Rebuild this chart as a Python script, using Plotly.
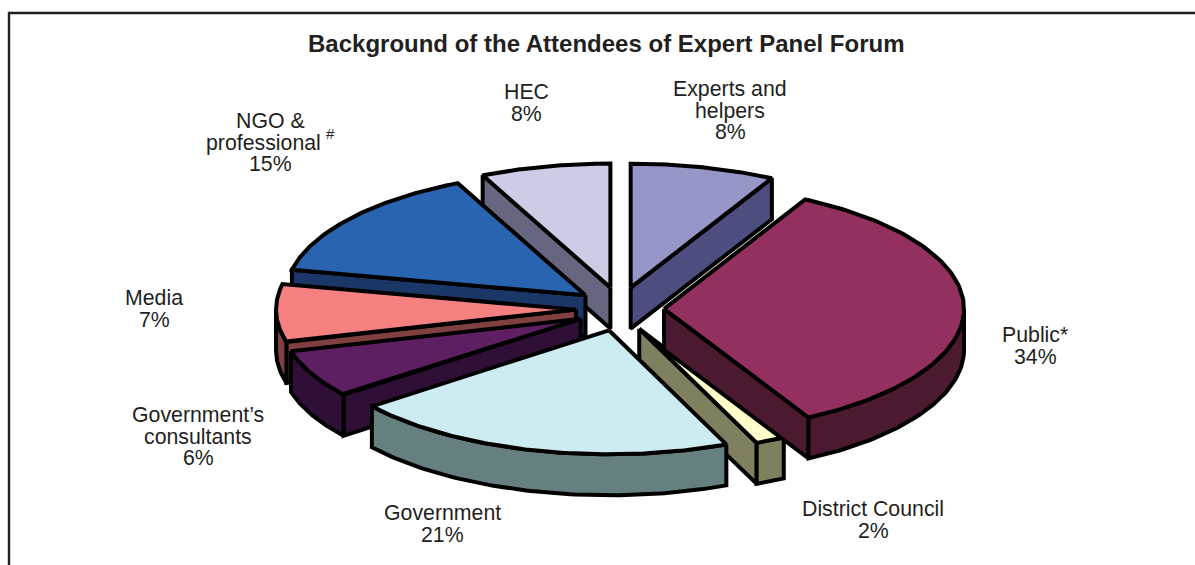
import numpy as np
import plotly.graph_objects as go

categories = ["Experts and helpers", "Public*", "District Council", "Government",
              "Government's consultants", "Media", "NGO & professional", "HEC"]
percent_labels = [8, 34, 2, 21, 6, 7, 15, 8]
slice_shares = [7.8, 34.2, 1.6, 20.9, 6.3, 7.5, 14.7, 7.0]
top_colors = ["#9696C9", "#93305F", "#FFFFCC", "#CDECF1", "#5E1F62", "#F58080", "#2864B0", "#CCCCE6"]
side_colors = ["#4D4D80", "#4B1A30", "#808060", "#668080", "#300F36", "#804040", "#1B3768", "#666680"]
label_lines = [
    ["Experts and", "helpers"], ["Public*"], ["District Council"], ["Government"],
    ["Government\u2019s", "consultants"], ["Media"], ["NGO &", "professional"], ["HEC"],
]
label_centers = [(730, 89), (1035, 335), (873, 509), (442, 513),
                 (198, 415), (154, 298), (270, 121), (526, 92)]
draw_order = [7, 6, 5, 4, 0, 2, 1, 3]

CX, CY, RX, RY, DEPTH, EX, EY = 620, 309, 300, 124, 41, 44, 22
LW = 4
FONT = "Liberation Sans, Arial, sans-serif"

fracs = np.array(slice_shares) / sum(slice_shares)
edges = np.concatenate([[0], np.cumsum(fracs)]) * 2 * np.pi


def point(theta, ox, oy, dz=0.0):
    return ox + RX * np.sin(theta), oy - RY * np.cos(theta) + dz


def poly(fig, xs, ys, fill):
    xs = list(xs) + [xs[0]]
    ys = list(ys) + [ys[0]]
    fig.add_trace(go.Scatter(x=xs, y=ys, mode="lines", fill="toself", fillcolor=fill,
                             line=dict(color="black", width=LW), hoverinfo="skip",
                             showlegend=False))


fig = go.Figure()
for i in draw_order:
    a, b = edges[i], edges[i + 1]
    mid = (a + b) / 2
    ox = CX + EX * np.sin(mid)
    oy = CY - EY * np.cos(mid)
    if np.sin(a) < 0:
        x, y = point(a, ox, oy)
        poly(fig, [ox, x, x, ox], [oy, y, y + DEPTH, oy + DEPTH], side_colors[i])
    if np.sin(b) > 0:
        x, y = point(b, ox, oy)
        poly(fig, [ox, x, x, ox], [oy, y, y + DEPTH, oy + DEPTH], side_colors[i])
    lo, hi = max(a, np.pi / 2), min(b, 3 * np.pi / 2)
    if hi > lo:
        t = np.linspace(lo, hi, 80)
        x, y = point(t, ox, oy)
        poly(fig, np.r_[x, x[::-1]], np.r_[y, y[::-1] + DEPTH], side_colors[i])
    t = np.linspace(a, b, 120)
    x, y = point(t, ox, oy)
    poly(fig, np.r_[ox, x], np.r_[oy, y], top_colors[i])

annotations = []


def text(x, y, s, size=21.3, bold=False):
    annotations.append(dict(x=x, y=y, xref="x", yref="y", text=f"<b>{s}</b>" if bold else s,
                            showarrow=False, xanchor="center", yanchor="middle",
                            font=dict(family=FONT, size=size, color="#231F20")))


LINE = 21.5
for lines, (lx, ly), pct in zip(label_lines, label_centers, percent_labels):
    for k, s in enumerate(lines):
        text(lx - 7 if s == "professional" else lx, ly + k * LINE, s)
    text(lx, ly + len(lines) * LINE, f"{pct}%")
text(330, 133, "#", size=15)
text(606, 43, "Background of the Attendees of Expert Panel Forum", size=24, bold=True)

fig.update_layout(
    width=1195, height=565, margin=dict(l=0, r=0, t=0, b=0),
    paper_bgcolor="white", plot_bgcolor="white", showlegend=False,
    xaxis=dict(range=[0, 1195], visible=False, fixedrange=True),
    yaxis=dict(range=[565, 0], visible=False, fixedrange=True),
    annotations=annotations,
    shapes=[dict(type="path", path="M 9 565 L 9 13 L 1195 13", xref="x", yref="y",
                 line=dict(color="#231F20", width=2.4))],
)
fig.write_html("out.html", config={"displayModeBar": False},
               post_script="document.body.style.margin='0';document.documentElement.style.overflow='hidden';")
